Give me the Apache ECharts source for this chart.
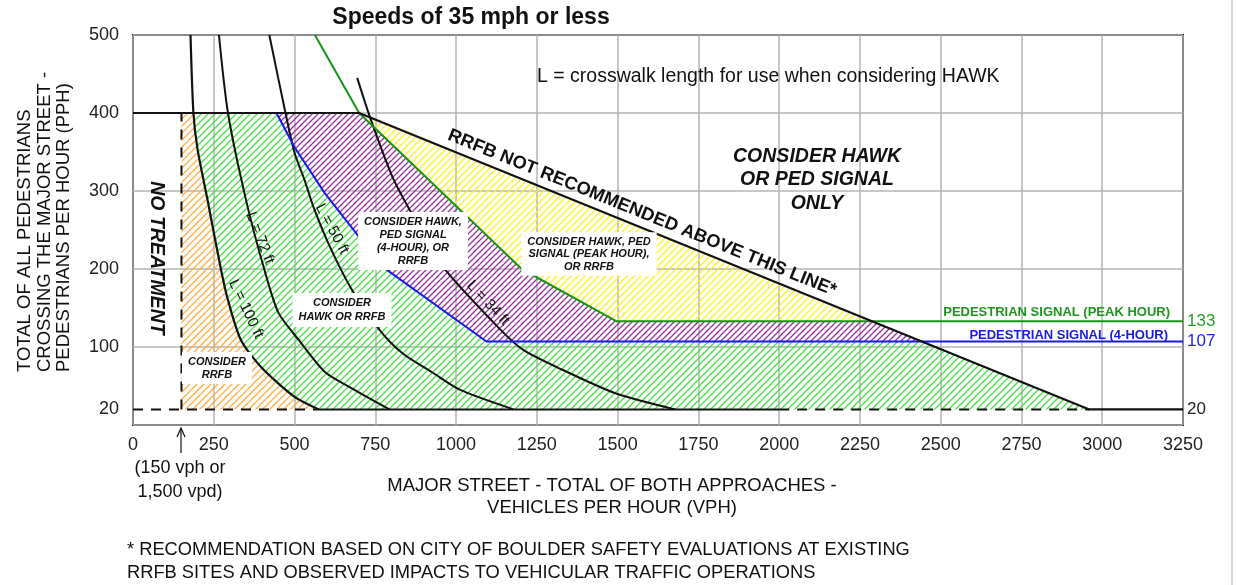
<!DOCTYPE html>
<html>
<head>
<meta charset="utf-8">
<script src="https://cdn.jsdelivr.net/npm/echarts/dist/echarts.min.js"></script>
<style>html,body{margin:0;padding:0;background:#fff;}#chart{width:1238px;height:585px;}</style>
</head>
<body>
<div id="chart"></div>
<script>
// ---------- DATA ----------
const xTickLabels = [0,250,500,750,1000,1250,1500,1750,2000,2250,2500,2750,3000,3250];
const yTickLabels = [20,100,200,300,400,500];
const rightTickLabels = [20,107,133];

// crosswalk length curves (vph, pph)
const curveL100 = [[178,500],[187,400],[200,353],[231,288],[272,200],[294,160],[334,109],[397,74],[500,36],[575,20]];
const curveL72  = [[266,500],[294,400],[350,288],[406,200],[450,144],[513,109],[594,68],[669,49],[794,20]];
const curveL50  = [[422,500],[472,400],[500,349],[531,314],[559,279],[610,228],[678,173],[763,122],[834,92],[928,67],[1013,45],[1178,20]];
const curveL34  = [[694,445],[734,394],[803,318],[856,276],[959,203],[1138,122],[1209,96],[1313,74],[1491,41],[1678,20]];

// pedestrian signal warrants
const pedSignal4Hour = [[444,400],[500,356],[594,297],[772,203],[1094,107],[3250,107]];
const pedSignalPeak  = [[563,500],[700,400],[1203,200],[1497,133],[3250,133]];

// RRFB limit line
const rrfbLimit = [[0,400],[700,400],[2960,20],[3250,20]];
const peakCrossing = [2288,133];
const fourHourCrossing = [2443,107];

// minimum thresholds
const minVolumeLine = [[150,20],[150,400]];
const base20DashedA = [[0,20],[575,20]];
const base20Solid   = [[575,20],[2000,20]];
const base20DashedB = [[2000,20],[2960,20]];

// ---------- ZONES (built from the lines above) ----------
const zoneRRFB = [[150,400]].concat(curveL100.slice(1), [[150,20]]);
const zoneHawkRRFB = [curveL100[1]].concat(pedSignal4Hour.slice(0,5), [fourHourCrossing, rrfbLimit[2]], curveL100.slice(1).reverse());
const zone4Hour = pedSignalPeak.slice(1,4).concat([peakCrossing, fourHourCrossing], pedSignal4Hour.slice(0,5).reverse());
const zonePeak = [pedSignalPeak[1], peakCrossing].concat(pedSignalPeak.slice(2,4).reverse());

function makeHatch(color, s, w) {
  const c = document.createElement('canvas');
  c.width = s; c.height = s;
  const g = c.getContext('2d');
  g.strokeStyle = color; g.lineWidth = w; g.lineCap = 'square';
  g.beginPath();
  g.moveTo(0, s); g.lineTo(s, 0);
  g.moveTo(-1, 1); g.lineTo(1, -1);
  g.moveTo(s - 1, s + 1); g.lineTo(s + 1, s - 1);
  g.stroke();
  return c;
}
const zones = [
  {pts: zoneRRFB, fill: {image: makeHatch('rgb(255,175,70)', 7, 1.3), repeat: 'repeat'}},
  {pts: zoneHawkRRFB, fill: {image: makeHatch('rgb(70,225,70)', 7, 1.3), repeat: 'repeat'}},
  {pts: zone4Hour, fill: {image: makeHatch('rgb(150,50,160)', 6, 1.3), repeat: 'repeat'}},
  {pts: zonePeak, fill: {image: makeHatch('rgb(255,240,30)', 7, 1.3), repeat: 'repeat'}}
];

const FONT = '"Liberation Sans", Arial, sans-serif';
const chart = echarts.init(document.getElementById('chart'), null, {renderer: 'canvas'});

function lineSeries(data, color, width, type, smooth) {
  return {
    type: 'line', data: data, showSymbol: false, symbol: 'none', silent: true,
    smooth: smooth ? 0.25 : false,
    lineStyle: {color: color, width: width, type: type || 'solid'}, z: 3
  };
}

function txt(x, y, text, font, opts) {
  return {
    type: 'text', x: x, y: y, z: 100, silent: true,
    style: Object.assign({text: text, font: font, fill: '#111', align: 'center', verticalAlign: 'middle'}, opts || {})
  };
}
function boxTxt(x, y, text, font, lh) {
  return {
    type: 'text', x: x, y: y, z: 100, silent: true,
    style: {text: text, font: font, fill: '#111', align: 'center', verticalAlign: 'middle',
            lineHeight: lh, backgroundColor: '#fff', padding: [3, 6, 3, 6]}
  };
}
function rotTxt(x, y, text, font, rot, extra) {
  return {
    type: 'text', x: x, y: y, rotation: rot, z: 100, silent: true,
    style: Object.assign({text: text, font: font, fill: '#111', align: 'center', verticalAlign: 'middle'}, extra || {})
  };
}

const option = {
  animation: false,
  backgroundColor: '#fff',
  grid: {left: 133, right: 55, top: 35, bottom: 160, show: true, borderColor: '#111', borderWidth: 2, backgroundColor: 'transparent'},
  xAxis: {
    type: 'value', min: 0, max: 3250, interval: 250,
    axisLine: {show: false}, axisTick: {show: false},
    axisLabel: {fontSize: 18, color: '#222', fontFamily: FONT, margin: 11, customValues: xTickLabels,
                formatter: function (v) { return String(v); }},
    splitLine: {show: true, lineStyle: {color: '#b4b4b4', width: 1.5}}
  },
  yAxis: [{
    type: 'value', min: 0, max: 500, interval: 100,
    axisLine: {show: false}, axisTick: {show: false},
    axisLabel: {fontSize: 18, color: '#222', fontFamily: FONT, margin: 14, customValues: yTickLabels},
    splitLine: {show: true, lineStyle: {color: '#b4b4b4', width: 1.5}}
  }, {
    type: 'value', min: 0, max: 500, position: 'right',
    axisLine: {show: false}, axisTick: {show: false}, splitLine: {show: false},
    axisLabel: {
      customValues: rightTickLabels, margin: 4, fontSize: 17, fontFamily: FONT,
      formatter: function (v) { return v === 133 ? '{g|133}' : (v === 107 ? '{b|107}' : '{k|' + v + '}'); },
      rich: {
        g: {color: 'rgb(40,160,40)', fontSize: 17, fontFamily: FONT},
        b: {color: 'rgb(30,30,235)', fontSize: 17, fontFamily: FONT},
        k: {color: '#222', fontSize: 17, fontFamily: FONT}
      }
    }
  }],
  series: [
    {
      type: 'custom', coordinateSystem: 'cartesian2d', silent: true, z: 1,
      data: zones.map(function (z, i) { return [i]; }),
      renderItem: function (params, api) {
        const z = zones[params.dataIndex];
        return {type: 'polygon', shape: {points: z.pts.map(function (p) { return api.coord(p); })},
                style: {fill: z.fill, stroke: null}};
      }
    },
    lineSeries(base20DashedA, '#111', 2, [10, 8]),
    lineSeries(base20Solid, '#111', 2),
    lineSeries(base20DashedB, '#111', 2, [10, 8]),
    lineSeries(minVolumeLine, '#111', 2, [10, 8]),
    lineSeries(curveL100, '#111', 2.2, null, true),
    lineSeries(curveL72, '#111', 2, null, true),
    lineSeries(curveL50, '#111', 2, null, true),
    lineSeries(curveL34, '#111', 2, null, true),
    lineSeries(pedSignal4Hour, 'rgb(25,25,240)', 2),
    lineSeries(pedSignalPeak, 'rgb(20,150,20)', 2),
    lineSeries(rrfbLimit, '#111', 2.2)
  ],
  graphic: [
    txt(471, 18, 'Speeds of 35 mph or less', 'bold 23px ' + FONT),
    txt(537, 77, 'L = crosswalk length for use when considering HAWK', '19.5px ' + FONT, {align: 'left'}),
    txt(817, 180, 'CONSIDER HAWK\nOR PED SIGNAL\nONLY', 'italic bold 19.5px ' + FONT, {lineHeight: 23.5}),
    rotTxt(642, 213, 'RRFB NOT RECOMMENDED ABOVE THIS LINE*', 'bold 18.3px ' + FONT, -0.385),
    rotTxt(156, 258, 'NO TREATMENT', 'italic bold 19.5px ' + FONT, -Math.PI / 2),
    boxTxt(217, 368, 'CONSIDER\nRRFB', 'italic bold 11px ' + FONT, 13),
    boxTxt(342, 310, 'CONSIDER\nHAWK OR RRFB', 'italic bold 11px ' + FONT, 14),
    boxTxt(413, 241, 'CONSIDER HAWK,\nPED SIGNAL\n(4-HOUR), OR\nRRFB', 'italic bold 11px ' + FONT, 13),
    boxTxt(589, 254, 'CONSIDER HAWK, PED\nSIGNAL (PEAK HOUR),\nOR RRFB', 'italic bold 11px ' + FONT, 12.5),
    rotTxt(246, 309, 'L = 100 ft', '15px ' + FONT, -1.13),
    rotTxt(260, 238, 'L = 72 ft', '15px ' + FONT, -1.2),
    rotTxt(332, 229, 'L = 50 ft', '15px ' + FONT, -1.08),
    rotTxt(488, 303, 'L = 34 ft', '15px ' + FONT, -0.82),
    txt(1170, 312, 'PEDESTRIAN SIGNAL (PEAK HOUR)', 'bold 13px ' + FONT, {align: 'right', fill: 'rgb(30,150,30)'}),
    txt(1168, 335, 'PEDESTRIAN SIGNAL (4-HOUR)', 'bold 13px ' + FONT, {align: 'right', fill: 'rgb(25,25,235)'}),
    rotTxt(25, 372, 'TOTAL OF ALL PEDESTRIANS', '18.5px ' + FONT, Math.PI / 2, {align: 'left'}),
    rotTxt(45, 372, 'CROSSING THE MAJOR STREET -', '18.5px ' + FONT, Math.PI / 2, {align: 'left'}),
    rotTxt(64, 372, 'PEDESTRIANS PER HOUR (PPH)', '18.5px ' + FONT, Math.PI / 2, {align: 'left'}),
    txt(612, 486, 'MAJOR STREET - TOTAL OF BOTH APPROACHES -', '18.5px ' + FONT),
    txt(612, 508, 'VEHICLES PER HOUR (VPH)', '18.5px ' + FONT),
    txt(180, 468, '(150 vph or', '18px ' + FONT),
    txt(180, 492, '1,500 vpd)', '18px ' + FONT),
    {type: 'line', z: 100, silent: true, shape: {x1: 181, y1: 453, x2: 181, y2: 429}, style: {stroke: '#111', lineWidth: 1.2}},
    {type: 'polyline', z: 100, silent: true, shape: {points: [[177, 437], [181, 428], [185, 437]]}, style: {stroke: '#111', lineWidth: 1.2, fill: null}},
    txt(127, 550, '* RECOMMENDATION BASED ON CITY OF BOULDER SAFETY EVALUATIONS AT EXISTING', '18.3px ' + FONT, {align: 'left'}),
    txt(127, 573, 'RRFB SITES AND OBSERVED IMPACTS TO VEHICULAR TRAFFIC OPERATIONS', '18.3px ' + FONT, {align: 'left'}),
    {type: 'line', z: 100, silent: true, shape: {x1: 1232, y1: 0, x2: 1232, y2: 585}, style: {stroke: '#d8d8d8', lineWidth: 2}}
  ]
};
chart.setOption(option);
</script>
</body>
</html>
